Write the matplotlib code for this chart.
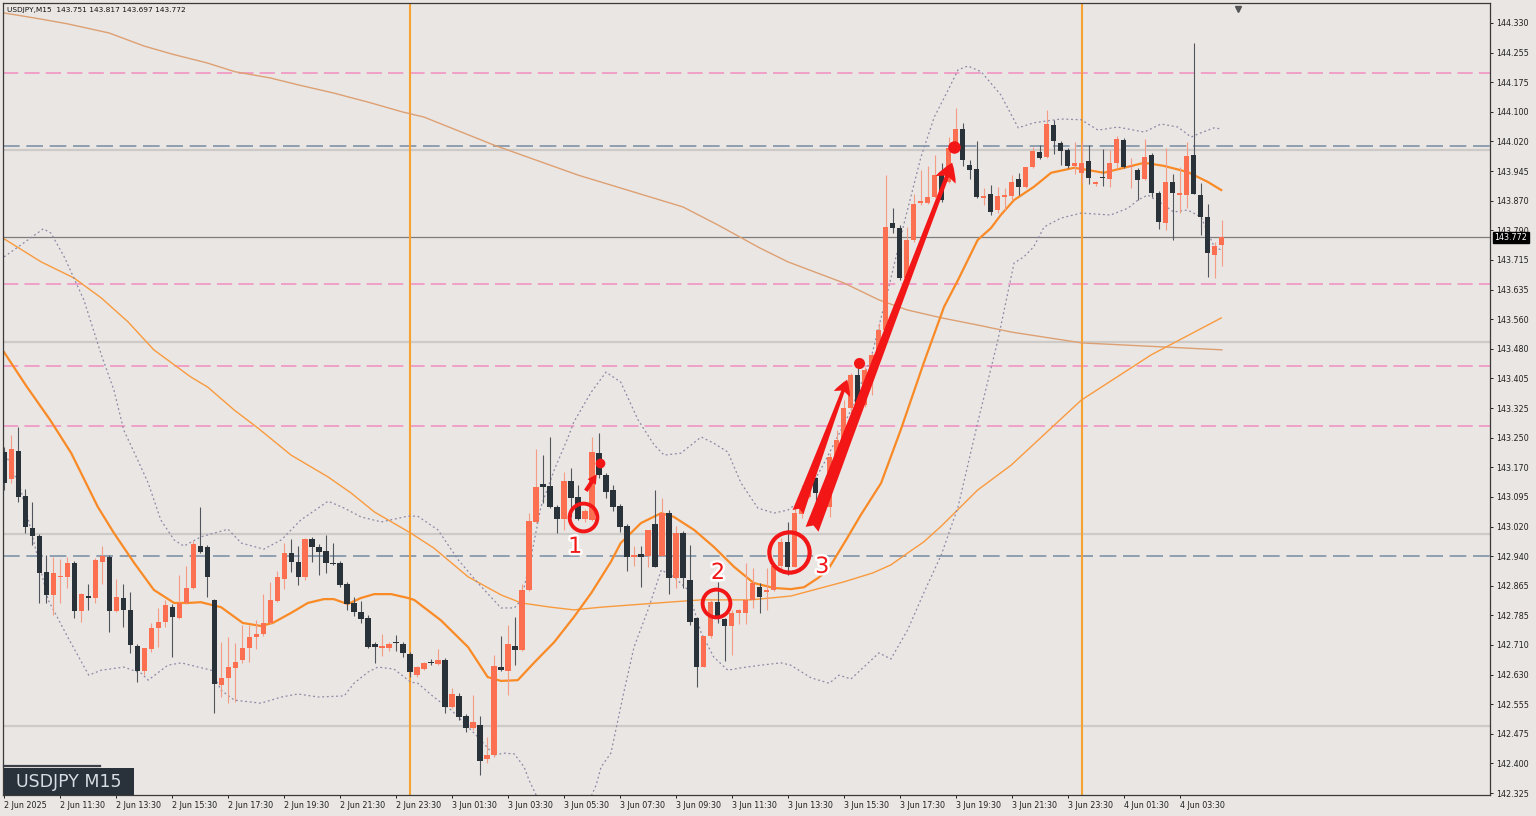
import numpy as np
import pandas as pd
import matplotlib
matplotlib.use("Agg")
import matplotlib.pyplot as plt
import matplotlib.transforms as mtrans
from matplotlib import patheffects as pe
from matplotlib.patches import FancyArrowPatch, Rectangle
from matplotlib.lines import Line2D

# USDJPY M15 candles, 2 Jun 2025 09:30 -> 4 Jun 2025 05:00
opens = [
    143.213, 143.143, 143.216, 143.098, 143.015, 142.994, 142.901, 142.841, 142.888, 142.888,
    142.924, 142.799, 142.838, 142.833, 142.927, 142.940, 142.799, 142.833, 142.801, 142.708,
    142.643, 142.700, 142.755, 142.770, 142.809, 142.781, 142.820, 142.859, 142.968, 142.966,
    142.828, 142.606, 142.624, 142.651, 142.671, 142.703, 142.731, 142.739, 142.768, 142.825,
    142.882, 142.950, 142.927, 142.888, 142.986, 142.966, 142.955, 142.924, 142.924, 142.869,
    142.820, 142.796, 142.781, 142.713, 142.703, 142.703, 142.718, 142.713, 142.687, 142.632,
    142.648, 142.666, 142.661, 142.671, 142.549, 142.578, 142.526, 142.494, 142.502, 142.414,
    142.424, 142.653, 142.643, 142.708, 142.697, 142.854, 143.031, 143.130, 143.124, 143.070,
    143.038, 143.137, 143.096, 143.038, 143.036, 143.210, 143.153, 143.114, 143.072, 143.020,
    142.940, 142.947, 142.942, 143.026, 142.942, 143.054, 142.885, 143.002, 142.880, 142.781,
    142.653, 142.734, 142.822, 142.778, 142.760, 142.794, 142.794, 142.828, 142.861, 142.848,
    142.854, 142.916, 142.979, 142.914, 143.052, 143.096, 143.145, 143.106, 143.070, 143.200,
    143.244, 143.328, 143.413, 143.335, 143.426, 143.466, 143.531, 143.809, 143.796, 143.666,
    143.765, 143.861, 143.861, 143.877, 143.940, 143.916, 144.005, 144.054, 143.960, 143.950,
    143.874, 143.885, 143.843, 143.877, 143.880, 143.924, 143.903, 143.955, 143.994, 143.981,
    144.065, 144.018, 143.999, 143.958, 143.940, 143.971, 143.911, 143.929, 143.924, 143.966,
    144.025, 143.955, 143.947, 143.924, 143.986, 143.887, 143.809, 143.916, 143.882, 143.882,
    143.986, 143.882, 143.825, 143.726, 143.751]
highs = [
    143.226, 143.257, 143.278, 143.117, 143.083, 143.000, 142.945, 142.940, 142.934, 142.940,
    142.929, 142.846, 142.869, 142.937, 142.968, 142.945, 142.882, 142.869, 142.848, 142.713,
    142.703, 142.768, 142.807, 142.828, 142.817, 142.893, 142.916, 142.981, 143.070, 142.971,
    142.830, 142.718, 142.731, 142.716, 142.762, 142.762, 142.775, 142.843, 142.874, 142.903,
    142.976, 142.986, 142.968, 142.989, 142.992, 142.973, 142.997, 142.976, 142.929, 142.874,
    142.835, 142.825, 142.788, 142.718, 142.739, 142.718, 142.737, 142.718, 142.692, 142.656,
    142.666, 142.674, 142.700, 142.677, 142.598, 142.585, 142.531, 142.580, 142.526, 142.471,
    142.684, 142.734, 142.762, 142.783, 142.869, 143.054, 143.221, 143.205, 143.252, 143.075,
    143.161, 143.171, 143.127, 143.065, 143.252, 143.262, 143.158, 143.127, 143.078, 143.025,
    142.968, 142.968, 143.010, 143.114, 143.093, 143.062, 143.020, 143.007, 142.971, 142.783,
    142.734, 142.828, 142.874, 142.781, 142.801, 142.804, 142.924, 142.911, 142.872, 142.911,
    142.916, 142.989, 143.031, 143.075, 143.127, 143.153, 143.148, 143.127, 143.210, 143.270,
    143.348, 143.419, 143.437, 143.434, 143.471, 143.549, 143.934, 143.848, 143.804, 143.799,
    143.885, 143.947, 143.958, 143.986, 143.966, 144.033, 144.109, 144.070, 143.973, 144.023,
    143.900, 143.908, 143.903, 143.900, 143.934, 143.940, 143.955, 144.007, 144.012, 144.104,
    144.078, 144.023, 144.005, 144.020, 144.023, 144.012, 143.919, 144.002, 143.999, 144.036,
    144.031, 143.979, 143.953, 144.028, 143.992, 143.893, 144.005, 143.937, 143.955, 144.020,
    144.278, 143.913, 143.859, 143.760, 143.817]
lows = [
    143.114, 143.132, 143.083, 143.002, 142.971, 142.820, 142.820, 142.788, 142.820, 142.859,
    142.781, 142.770, 142.801, 142.820, 142.869, 142.744, 142.796, 142.757, 142.690, 142.614,
    142.632, 142.692, 142.705, 142.757, 142.679, 142.778, 142.817, 142.856, 142.950, 142.835,
    142.533, 142.575, 142.559, 142.562, 142.663, 142.666, 142.700, 142.734, 142.765, 142.822,
    142.856, 142.901, 142.867, 142.880, 142.927, 142.893, 142.898, 142.919, 142.861, 142.801,
    142.786, 142.768, 142.703, 142.663, 142.682, 142.695, 142.695, 142.679, 142.627, 142.627,
    142.645, 142.658, 142.658, 142.533, 142.546, 142.515, 142.484, 142.489, 142.372, 142.403,
    142.419, 142.643, 142.580, 142.658, 142.695, 142.851, 143.028, 143.080, 143.067, 143.002,
    143.010, 143.044, 143.036, 143.031, 143.033, 143.145, 143.093, 143.059, 143.005, 142.903,
    142.916, 142.861, 142.914, 142.914, 142.942, 142.843, 142.859, 142.859, 142.762, 142.601,
    142.653, 142.729, 142.768, 142.669, 142.684, 142.765, 142.765, 142.807, 142.794, 142.801,
    142.851, 142.901, 142.893, 142.914, 143.041, 143.093, 143.057, 143.054, 143.044, 143.197,
    143.239, 143.315, 143.335, 143.330, 143.361, 143.460, 143.528, 143.783, 143.661, 143.663,
    143.760, 143.856, 143.859, 143.874, 143.864, 143.913, 143.999, 143.958, 143.924, 143.874,
    143.856, 143.830, 143.835, 143.843, 143.869, 143.882, 143.900, 143.953, 143.976, 143.979,
    143.989, 143.960, 143.953, 143.937, 143.913, 143.911, 143.906, 143.906, 143.903, 143.953,
    143.953, 143.900, 143.869, 143.921, 143.877, 143.794, 143.791, 143.765, 143.835, 143.848,
    143.885, 143.778, 143.669, 143.666, 143.697]
closes = [
    143.132, 143.221, 143.096, 143.018, 142.994, 142.898, 142.841, 142.898, 142.890, 142.924,
    142.799, 142.843, 142.833, 142.932, 142.942, 142.799, 142.835, 142.801, 142.710, 142.643,
    142.703, 142.755, 142.770, 142.815, 142.783, 142.820, 142.859, 142.973, 142.953, 142.888,
    142.609, 142.624, 142.653, 142.666, 142.703, 142.731, 142.739, 142.768, 142.828, 142.888,
    142.950, 142.927, 142.888, 142.986, 142.966, 142.953, 142.924, 142.921, 142.867, 142.817,
    142.796, 142.778, 142.705, 142.705, 142.708, 142.713, 142.716, 142.690, 142.640, 142.653,
    142.663, 142.663, 142.671, 142.549, 142.583, 142.523, 142.494, 142.510, 142.408, 142.424,
    142.656, 142.645, 142.713, 142.697, 142.854, 143.033, 143.122, 143.122, 143.070, 143.038,
    143.137, 143.093, 143.038, 143.059, 143.213, 143.153, 143.109, 143.070, 143.018, 142.940,
    142.945, 142.940, 143.010, 142.914, 143.054, 142.885, 143.002, 142.885, 142.770, 142.653,
    142.734, 142.822, 142.778, 142.760, 142.794, 142.801, 142.828, 142.872, 142.835, 142.854,
    142.916, 142.979, 142.914, 143.054, 143.096, 143.143, 143.106, 143.075, 143.200, 143.244,
    143.328, 143.413, 143.335, 143.426, 143.466, 143.531, 143.799, 143.796, 143.666, 143.765,
    143.859, 143.867, 143.877, 143.934, 143.869, 144.005, 144.054, 143.973, 143.947, 143.877,
    143.880, 143.838, 143.880, 143.882, 143.916, 143.903, 143.955, 143.997, 143.979, 144.067,
    144.023, 143.997, 143.958, 143.966, 143.966, 143.927, 143.916, 143.927, 143.966, 144.028,
    143.955, 143.958, 143.921, 143.981, 143.887, 143.812, 143.916, 143.887, 143.887, 143.984,
    143.885, 143.825, 143.731, 143.749, 143.772]

# indicator lines: (bar index, price)
ma20_x = [0, 3.1, 6.6, 9.6, 13.4, 15.7, 18.6, 21.4, 24.3, 26.3, 28.1, 31, 34.1, 36.7, 38.4,
          41, 43.4, 45.7, 47.1, 49.1, 51, 52.9, 55.3, 57.7, 58.6, 62.4, 66.3, 69.1, 71, 73.4,
          75.7, 78.6, 81.4, 83.9, 86.7, 88.1, 91, 93.9, 95.7, 98.6, 101.4, 104.3, 107.1, 110,
          112.4, 114.3, 116.3, 117.7, 120.3, 122.4, 125.3, 128.1, 131.4, 134.3, 136.3, 139.1,
          141, 142.4, 144.3, 147.1, 149.6, 152.9, 154.9, 157.1, 160, 162.9, 165.7, 169.1, 172, 173.9]
ma20_y = [143.473, 143.387, 143.296, 143.210, 143.070, 143.002, 142.924, 142.854, 142.820, 142.820,
          142.822, 142.809, 142.768, 142.760, 142.768, 142.794, 142.820, 142.830, 142.830, 142.817,
          142.833, 142.843, 142.843, 142.833, 142.828, 142.775, 142.705, 142.627, 142.617, 142.619,
          142.664, 142.718, 142.783, 142.846, 142.927, 142.976, 143.028, 143.054, 143.044, 143.010,
          142.966, 142.914, 142.872, 142.859, 142.856, 142.861, 142.885, 142.906, 142.984, 143.049,
          143.132, 143.270, 143.445, 143.591, 143.661, 143.765, 143.796, 143.830, 143.869, 143.903,
          143.940, 143.953, 143.947, 143.940, 143.953, 143.966, 143.958, 143.942, 143.916, 143.895]

ma75_x = [0, 5.3, 10, 13.9, 17.7, 21.4, 26.7, 29.1, 32.9, 36.3, 41, 46.3, 49.6, 52.9, 58.1,
          61.4, 66.3, 71, 73.9, 78.1, 81.4, 85.3, 94.9, 99.6, 106.7, 112.4, 120, 124.1, 126.7,
          129.1, 131.4, 133.9, 139.1, 143.9, 153.9, 163.9, 173.9]
ma75_y = [143.768, 143.708, 143.666, 143.614, 143.552, 143.479, 143.408, 143.382, 143.322, 143.275,
          143.205, 143.148, 143.106, 143.057, 143.002, 142.963, 142.888, 142.841, 142.820, 142.809,
          142.802, 142.809, 142.822, 142.828, 142.828, 142.838, 142.875, 142.898, 142.919, 142.950,
          142.979, 143.020, 143.114, 143.179, 143.348, 143.466, 143.562]

ma200_x = [0, 5, 9, 15, 20, 24, 29, 33, 38, 42, 47, 52, 57, 60, 70, 82, 97, 102, 108, 112,
           120, 125, 129, 134, 139, 144, 154, 174]
ma200_y = [144.356, 144.341, 144.328, 144.304, 144.270, 144.249, 144.226, 144.203, 144.187, 144.169,
           144.148, 144.124, 144.098, 144.085, 144.012, 143.934, 143.851, 143.804, 143.744, 143.708,
           143.653, 143.609, 143.583, 143.562, 143.544, 143.525, 143.497, 143.479]

bb_up_x = [0, 2.4, 5.6, 6.7, 8.6, 11.4, 13.9, 15.7, 17.1, 19.1, 20.6, 22.4, 24.3, 25.7, 28.1,
           32, 33.9, 37.1, 39.6, 42.4, 46.3, 48.6, 51, 53.9, 57.7, 59.1, 62, 64.9, 67.7, 71,
           72.9, 73.9, 75.3, 76.7, 78.6, 80.6, 81.4, 83.9, 86, 88.1, 90.6, 92.9, 94.3, 96.7,
           99.6, 101.4, 103.4, 105.3, 107.7, 110, 112, 113.9, 115.3, 117.4, 121, 123.9, 126.3,
           128.6, 131, 132.9, 134.9, 136.3, 137.7, 139.6, 142.4, 144.9, 147.1, 151, 153.9,
           156.3, 159.1, 162.9, 165.3, 167.7, 169.6, 171, 172.9, 173.9]
bb_up_y = [143.721, 143.752, 143.794, 143.783, 143.721, 143.609, 143.466, 143.374, 143.270, 143.192,
           143.132, 143.036, 142.984, 142.968, 142.992, 143.012, 142.976, 142.960, 142.984, 143.036,
           143.085, 143.067, 143.044, 143.031, 143.046, 143.046, 143.010, 142.932, 142.872, 142.807,
           142.807, 142.828, 142.940, 143.070, 143.166, 143.252, 143.291, 143.369, 143.421, 143.395,
           143.296, 143.231, 143.205, 143.210, 143.252, 143.236, 143.213, 143.132, 143.067, 143.054,
           143.062, 143.088, 143.122, 143.192, 143.322, 143.460, 143.635, 143.809, 143.981, 144.085,
           144.156, 144.208, 144.218, 144.203, 144.143, 144.057, 144.070, 144.080, 144.078, 144.051,
           144.059, 144.046, 144.067, 144.059, 144.033, 144.044, 144.057, 144.054]

bb_lo_x = [0, 2.4, 4.3, 6.3, 9.1, 12.1, 13.9, 17.1, 19.6, 20.6, 23.4, 25.3, 27.1, 29.6, 31,
           32.9, 36.7, 39.6, 42, 44.9, 48.6, 50, 52, 53.4, 55.7, 58.1, 59.1, 61.4, 63.9, 66.3,
           68.1, 70, 71.4, 72.9, 74.3, 75, 76.7, 79.1, 82.4, 84.6, 85.3, 86.7, 88.4, 90, 92,
           93.9, 95.7, 97.7, 99.6, 101.4, 103.4, 105.3, 108.1, 111, 112.4, 115.3, 117.9, 119.3,
           121, 125, 126.7, 129.1, 131.4, 133.9, 136.3, 139.1, 142, 144.3, 145.7, 147.1, 148.6,
           151, 153.9, 158.1, 160.6, 162, 163.4, 165.3, 167.1, 169.1, 171, 172.9, 173.9]
bb_lo_y = [143.218, 143.114, 142.976, 142.828, 142.731, 142.632, 142.645, 142.653, 142.637, 142.619,
           142.658, 142.664, 142.656, 142.645, 142.593, 142.567, 142.559, 142.575, 142.583, 142.575,
           142.578, 142.611, 142.640, 142.653, 142.648, 142.614, 142.611, 142.575, 142.541, 142.497,
           142.463, 142.424, 142.429, 142.427, 142.393, 142.359, 142.294, 142.229, 142.255, 142.346,
           142.393, 142.429, 142.575, 142.705, 142.802, 142.906, 142.888, 142.854, 142.742, 142.679,
           142.645, 142.651, 142.658, 142.664, 142.658, 142.625, 142.611, 142.632, 142.622, 142.690,
           142.674, 142.750, 142.846, 142.945, 143.070, 143.289, 143.505, 143.705, 143.721, 143.747,
           143.799, 143.822, 143.835, 143.830, 143.848, 143.869, 143.882, 143.861, 143.838, 143.843,
           143.825, 143.747, 143.739]

# horizontal levels and day separators
pink_levels = [144.200, 143.650, 143.437, 143.281]
gray_dash_levels = [144.010, 142.942]
round_levels = [144.0, 143.5, 143.0, 142.5]
last_price = 143.772
day_breaks = [58, 154]

price_labels = ["144.330", "144.255", "144.175", "144.100", "144.020", "143.945", "143.870",
                "143.790", "143.715", "143.635", "143.560", "143.480", "143.405", "143.325",
                "143.250", "143.170", "143.095", "143.020", "142.940", "142.865", "142.785",
                "142.710", "142.630", "142.555", "142.475", "142.400", "142.325"]

# hand annotations
circle_x = [82.7, 101.7, 112.1]
circle_y = [143.044, 142.820, 142.953]
circle_ms = [20, 20, 29]
dot_x = [85.1, 122.1, 135.7]
dot_y = [143.184, 143.445, 144.007]
dot_ms = [7, 8, 9]
label_x = [81.6, 102.0, 116.9]
label_y = [142.966, 142.898, 142.914]
label_txt = ["1", "2", "3"]
arrow_from = [(82.9, 143.106), (113.3, 143.050), (115.3, 143.005)]
arrow_to = [(84.9, 143.161), (120.6, 143.408), (135.6, 143.973)]

BG = "#EAE6E3"
BULL = "#FD6F51"
BULL_WICK = "#F59C86"
BEAR = "#2A3239"
BEAR_WICK = "#50565C"
RED = "#F21616"

W, H = 1536, 816
fig = plt.figure(figsize=(W / 100, H / 100), dpi=100, facecolor=BG)
ax = fig.add_axes([3 / W, 21 / H, 1487 / W, 792 / H])
ax.set_facecolor(BG)

# levels
for lv in round_levels:
    ax.axhline(lv, color="#CDCAC8", lw=1.6, zorder=1)
for lv in pink_levels:
    ax.axhline(lv, color="#F28DC0", lw=1.1, dashes=(10, 4), zorder=1)
for lv in gray_dash_levels:
    ax.axhline(lv, color="#7E93A8", lw=1.2, dashes=(10, 4), zorder=1)
ax.axhline(last_price, color="#7D7D7D", lw=0.9, zorder=1)
for d in day_breaks:
    ax.axvline(d, color="#F7A133", lw=1.5, zorder=1)

# indicators
ax.plot(ma200_x, ma200_y, color="#DDA073", lw=1.0, zorder=2)
ax.plot(ma75_x, ma75_y, color="#F99A3E", lw=1.0, zorder=2)
ax.plot(ma20_x, ma20_y, color="#F98A26", lw=1.6, zorder=2)
ax.plot(bb_up_x, bb_up_y, color="#8C88A6", lw=0.9, ls=(0, (1.5, 2.2)), zorder=2)
ax.plot(bb_lo_x, bb_lo_y, color="#8C88A6", lw=0.9, ls=(0, (1.5, 2.2)), zorder=2)

# candles
o, h, l, c = map(np.array, (opens, highs, lows, closes))
x = np.arange(len(o))
up = c >= o
ax.vlines(x, l, h, colors=np.where(up, BULL_WICK, BEAR_WICK), lw=0.8, zorder=3)
body_lo = np.minimum(o, c)
body_h = np.maximum(np.abs(c - o), 0.0028)
ax.bar(x, body_h, bottom=body_lo, width=0.72, color=np.where(up, BULL, BEAR), lw=0, zorder=4)

# annotations
for cx, cy, ms in zip(circle_x, circle_y, circle_ms):
    ax.plot(cx, cy, "o", ms=ms, mfc="none", mec=RED, mew=3.0 if ms > 25 else 2.8, zorder=6)
for dx, dy, ms in zip(dot_x, dot_y, dot_ms):
    ax.plot(dx, dy, "o", ms=ms, color=RED, mec="none", zorder=6)
styles = ["simple,head_width=0.6,head_length=0.55,tail_width=0.25",
          "fancy,head_width=0.62,head_length=0.55,tail_width=0.42",
          "fancy,head_width=0.7,head_length=0.6,tail_width=0.45"]
scales = [12, 20, 22]
for (x0, y0), (x1, y1), st, sc in zip(arrow_from, arrow_to, styles, scales):
    ax.add_patch(FancyArrowPatch((x0, y0), (x1, y1), arrowstyle=st, mutation_scale=sc,
                                 color=RED, lw=0, zorder=6))
for tx, ty, t in zip(label_x, label_y, label_txt):
    ax.text(tx, ty, t, color=RED, fontsize=16, ha="center", va="center", zorder=7,
            path_effects=[pe.withStroke(linewidth=3.5, foreground="white")])

# axes
ax.set_xlim(-0.15, 212.3)
ax.set_ylim(142.320, 144.382)
ax.yaxis.tick_right()
ax.set_yticks(np.linspace(144.330, 142.325, len(price_labels)))
ax.set_yticklabels(price_labels)
times = pd.date_range("2025-06-02 09:30", periods=len(opens), freq="15min")
xt = list(range(0, len(opens), 8))
xl = []
for i in xt:
    t = times[i]
    xl.append("2 Jun 2025" if i == 0 else f"{t.day} {t.strftime('%b')} {t.strftime('%H:%M')}")
ax.set_xticks(xt)
ax.set_xticklabels(xl)
for lbl in ax.get_xticklabels():
    lbl.set_horizontalalignment("left")
ax.tick_params(axis="y", length=2.5, width=0.7, labelsize=5.8, pad=2, colors="#222222")
ax.tick_params(axis="x", length=2.5, width=0.7, labelsize=5.8, pad=1.5, colors="#222222")
for s in ax.spines.values():
    s.set_color("#3A3A3A")
    s.set_linewidth(0.9)

# current price tag
trans = mtrans.blended_transform_factory(ax.transAxes, ax.transData)
ax.text(1.003, last_price, "143.772", transform=trans, color="white", fontsize=5.8,
        ha="left", va="center", zorder=8,
        bbox=dict(boxstyle="square,pad=0.15", fc="black", ec="black"))

# chart shift marker
ax.plot([(1238 - 3) / 1487], [0.993], marker="v", ms=5, color="#555555",
        transform=ax.transAxes, clip_on=False, zorder=8)

# header text
fig.text(7 / W, 1 - 10 / H, "USDJPY,M15  143.751 143.817 143.697 143.772",
         fontsize=5.3, color="#111111", va="center", ha="left")

# symbol badge bottom-left
fig.add_artist(Line2D([4 / W, 100 / W], [1 - 766 / H] * 2, color="#3A4047", lw=1.6))
fig.add_artist(Rectangle((4 / W, 1 - 795 / H), 130 / W, 27 / H, transform=fig.transFigure,
                         fc="#29313A", ec="none", zorder=10))
fig.text(69 / W, 1 - 782 / H, "USDJPY M15", fontsize=12.5, color="#D6DCE2",
         ha="center", va="center", zorder=11)

fig.savefig("out.png", dpi=100, facecolor=BG)
